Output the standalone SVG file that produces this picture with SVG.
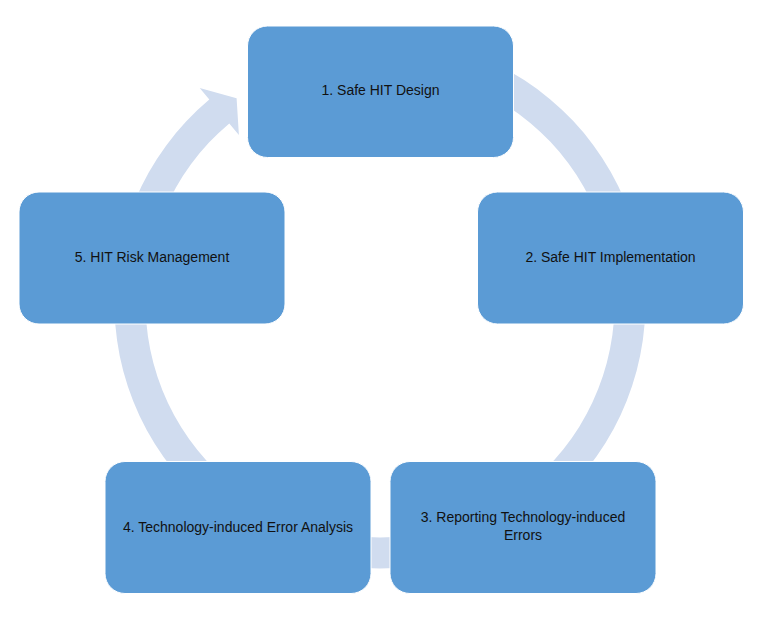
<svg xmlns="http://www.w3.org/2000/svg" width="775" height="619" viewBox="0 0 775 619">
  <style>
    .box { fill: #5B9BD5; stroke: #ffffff; stroke-width: 1; }
    .lbl { font-family: "Liberation Sans", Arial, sans-serif; font-size: 14px; fill: #111111; text-anchor: middle; }
    .cyc { fill: #D0DCEF; stroke: none; }
  </style>
  <rect width="775" height="619" fill="#ffffff"/>
  <g id="connectors">
    <path class="cyc" d="M 343.0 40.1 A 265.5 265.5 0 1 1 209.3 99.6 L 199.7 88.1 L 236.6 98.2 L 238.9 134.9 L 229.3 123.4 A 234.5 234.5 0 1 0 347.4 70.8 Z"/>
  </g>
  <g id="node1">
    <rect class="box" x="247.5" y="26" width="266" height="131.5" rx="20" ry="20"/>
    <text class="lbl" x="380.5" y="95">1. Safe HIT Design</text>
  </g>
  <g id="node2">
    <rect class="box" x="477.5" y="192" width="266" height="132" rx="20" ry="20"/>
    <text class="lbl" x="610.5" y="262">2. Safe HIT Implementation</text>
  </g>
  <g id="node3">
    <rect class="box" x="390" y="461.5" width="266" height="132" rx="20" ry="20"/>
    <text class="lbl" x="523" y="522">3. Reporting Technology-induced</text>
    <text class="lbl" x="523" y="540">Errors</text>
  </g>
  <g id="node4">
    <rect class="box" x="105" y="461.5" width="266" height="132" rx="20" ry="20"/>
    <text class="lbl" x="238" y="531.5">4. Technology-induced Error Analysis</text>
  </g>
  <g id="node5">
    <rect class="box" x="19" y="192" width="266" height="132" rx="20" ry="20"/>
    <text class="lbl" x="152" y="262">5. HIT Risk Management</text>
  </g>
</svg>
